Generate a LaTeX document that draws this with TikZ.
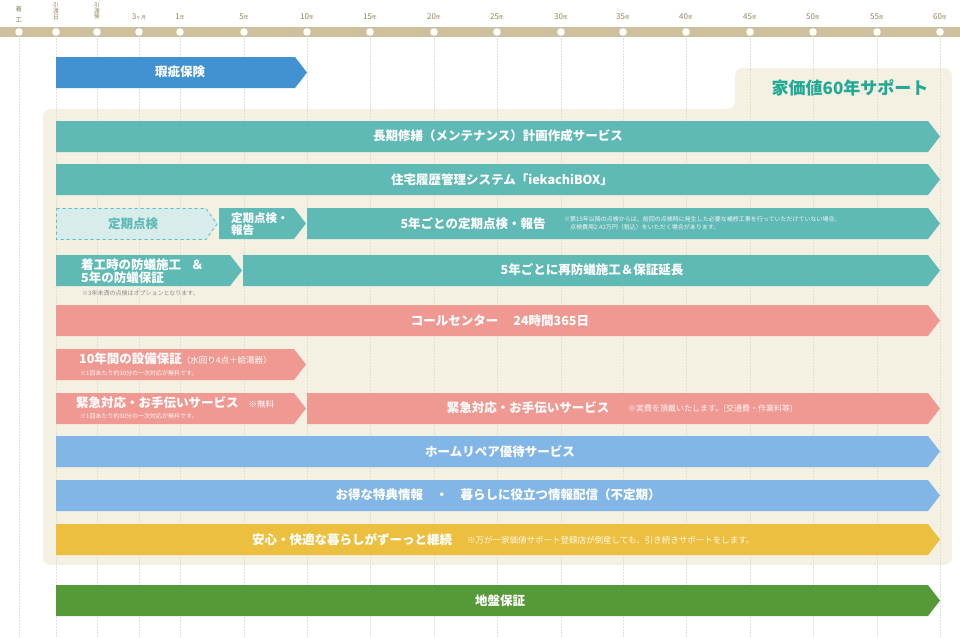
\documentclass[tikz,border=0pt]{standalone}
\usepackage{fontspec}
\setmainfont{Noto Sans CJK JP}
\usetikzlibrary{arrows.meta,positioning}
\definecolor{supportcream}{RGB}{244,240,226}
\definecolor{supporttan}{RGB}{206,192,156}
\definecolor{supportlabel}{RGB}{150,130,90}
\definecolor{supportblue}{RGB}{66,146,210}
\definecolor{supportteal}{RGB}{95,185,180}
\definecolor{supportmint}{RGB}{216,237,235}
\definecolor{supportpink}{RGB}{240,153,147}
\definecolor{supportsky}{RGB}{130,182,230}
\definecolor{supportyellow}{RGB}{236,191,62}
\definecolor{supportgreen}{RGB}{86,154,56}
\definecolor{supporttitle}{RGB}{32,170,150}
\newcommand{\fsz}[1]{\fontsize{#1}{#1}\selectfont}
% pasek ze strzałką: kolor, x od, x grotu, y górne
\newcommand{\supportbar}[4]{%
  \fill[#1] (#2,#4) -- ({#3-12},#4) -- (#3,{#4+15.5}) -- ({#3-12},{#4+31}) -- (#2,{#4+31}) -- cycle;}

\begin{document}
\begin{tikzpicture}[x=1pt,y=-1pt,
  bartext/.style={text=white,font=\bfseries\fsz{12.5},inner sep=0pt},
  barnote/.style={text=white,opacity=.9,font=\fsz{6},inner sep=0pt,anchor=west},
  ticklabel/.style={text=supportlabel,font=\fsz{8},inner sep=0pt}]
\useasboundingbox (0,0) rectangle (960,637);
% tło panelu z zakładką
\fill[supportcream,rounded corners=8pt]
  (43,109) -- (735,109) -- (735,68) -- (952,68) -- (952,565) -- (43,565) -- cycle;
\node[text=supporttitle,font=\bfseries\fsz{17}] (title) at (850,88) {家価値60年サポート};
% --- oś czasu ---
\fill[supporttan] (0,27) rectangle (960,37);
\foreach \x in {19,56,97,139,180,244,307,370,434,497,561,623,686,750,813,877,940}{
  \draw[black!13,dash pattern=on 1.5pt off 1.5pt] (\x,38) -- (\x,637);
  \fill[white] (\x,32) circle[radius=3.8pt];
}
\node[ticklabel,font=\fsz{6.5},align=center] (start) at (19,14.5) {着\\[5pt]工};
\node[ticklabel,font=\fsz{5.8},align=center] (handover) at (56,11) {引\\渡\\日};
\node[ticklabel,font=\fsz{5.8},align=center] (after) at (97,11) {引\\渡\\後};
\node[ticklabel] (month3) at (139,17) {3{\fsz{5}ヶ月}};
\foreach \x/\y in {180/1,244/5,307/10,370/15,434/20,497/25,561/30,623/35,686/40,750/45,813/50,877/55,940/60}
  \node[ticklabel] (year\y) at (\x,17) {\y{\fsz{5}年}};
% --- paski ---
\supportbar{supportblue}{56}{307}{57}
\node[bartext] (defect) at (180,72) {瑕疵保険};
\supportbar{supportteal}{56}{940}{121}
\node[bartext] (plan) at (498,136) {長期修繕（メンテナンス）計画作成サービス};
\supportbar{supportteal}{56}{940}{164}
\node[bartext] (history) at (502,180) {住宅履歴管理システム「iekachiBOX」};
% okresowe przeglądy
\fill[supportmint] (56,208) -- (206,208) -- (218,224) -- (206,240) -- (56,240) -- cycle;
\draw[supportteal,dashed,thick] (56.5,208.5) -- (206,208.5) -- (217,224) -- (206,239.5) -- (56.5,239.5) -- cycle;
\node[bartext,text=supportteal] (check) at (133,224) {定期点検};
\supportbar{supportteal}{219}{306}{208}
\node[bartext,anchor=west,align=left,font=\bfseries\fsz{11.5}] (report) at (231,224) {定期点検・\\[1pt]報告};
\supportbar{supportteal}{307}{940}{208}
\node[bartext] (report5) at (473,224) {5年ごとの定期点検・報告};
\node[barnote,align=left,font=\fsz{6}] (reportnote) at (564,223.5)
  {※第15年以降の点検からは、前回の点検時に発生した必要な補修工事を行っていただけていない場合、\\[2pt]
   \hspace*{1em}点検費用2.42万円（税込）をいただく場合があります。};
% ochrona przed termitami
\supportbar{supportteal}{56}{242}{255}
\node[bartext,anchor=west,align=left] (termite) at (81,271) {着工時の防蟻施工\hspace{.8em}＆\\[1pt]5年の防蟻保証};
\node[barnote,text=black!45,opacity=1] (termitenote) at (82,293) {※3年未満の点検はオプションとなります。};
\supportbar{supportteal}{243}{940}{255}
\node[bartext] (termite5) at (592,270) {5年ごとに再防蟻施工＆保証延長};
% serwis
\supportbar{supportpink}{56}{940}{305}
\node[bartext] (call) at (500,321) {コールセンター\hspace{1.2em}24時間365日};
\supportbar{supportpink}{56}{306}{349}
\node[bartext,anchor=west] (equip) at (79,359) {10年間の設備保証{\mdseries\fsz{8.5}（水回り4点＋給湯器）}};
\node[barnote] (equipnote) at (80,373) {※1回あたり約30分の一次対応が無料です。};
\supportbar{supportpink}{56}{306}{393}
\node[bartext,anchor=west] (help) at (76,403) {緊急対応・お手伝いサービス\hspace{.8em}{\mdseries\fsz{8.5}※無料}};
\node[barnote] (helpnote) at (80,416) {※1回あたり約30分の一次対応が無料です。};
\supportbar{supportpink}{307}{940}{393}
\node[bartext] (help10) at (528,408) {緊急対応・お手伝いサービス};
\node[barnote,font=\fsz{8}] (help10note) at (628,409) {※実費を頂戴いたします。(交通費・作業料等)};
\supportbar{supportsky}{56}{940}{436}
\node[bartext] (repair) at (500,452) {ホームリペア優待サービス};
\supportbar{supportsky}{56}{940}{480}
\node[bartext] (info) at (498,495) {お得な特典情報\hspace{1em}・\hspace{1em}暮らしに役立つ情報配信（不定期）};
\supportbar{supportyellow}{56}{940}{524}
\node[bartext] (ease) at (352,540) {安心・快適な暮らしがずーっと継続};
\node[barnote,font=\fsz{8.5}] (easenote) at (467,540) {※万が一家価値サポート登録店が倒産しても、引き続きサポートをします。};
% grunt
\supportbar{supportgreen}{56}{940}{585}
\node[bartext] (ground) at (500,601) {地盤保証};
\end{tikzpicture}
\end{document}
